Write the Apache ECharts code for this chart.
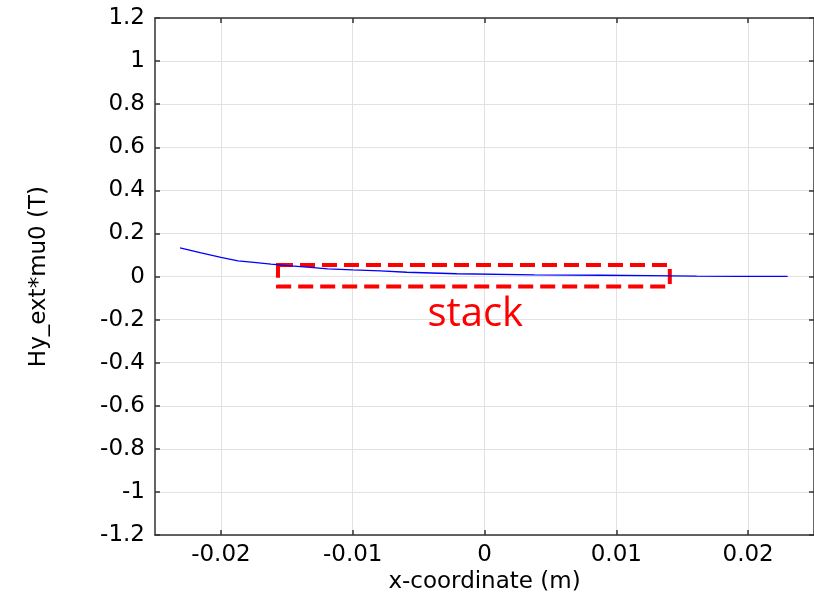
<!DOCTYPE html>
<html><head><meta charset="utf-8">
<script src="https://cdn.jsdelivr.net/npm/echarts@6/dist/echarts.min.js"></script>
<style>html,body{margin:0;padding:0;background:#fff;overflow:hidden}#c{width:814px;height:599px}</style>
</head><body><div id="c"></div>
<script>
// Data
var xValues = [-0.0231, -0.0215, -0.0200, -0.0187, -0.0175, -0.0162, -0.0147, -0.0132, -0.0119, -0.0100, -0.0079, -0.0059, -0.0021, 0.0038, 0.0088, 0.0125, 0.0161, 0.0193, 0.0230];
var yValues = [0.133, 0.110, 0.089, 0.073, 0.066, 0.058, 0.050, 0.043, 0.036, 0.031, 0.026, 0.020, 0.013, 0.008, 0.006, 0.004, 0.002, 0.001, 0.001];
var xTicks = [-0.02, -0.01, 0, 0.01, 0.02];
var yTicks = [-1.2, -1, -0.8, -0.6, -0.4, -0.2, 0, 0.2, 0.4, 0.6, 0.8, 1, 1.2];
var stackBox = [[-0.01567, 0.054], [0.01406, -0.046]];
var stackLabel = 'stack';
var stackLabelPos = [-0.0007, -0.176];
var xName = 'x-coordinate (m)';
var yName = 'Hy_ext*mu0 (T)';

var points = xValues.map(function (x, i) { return [x, yValues[i]]; });
var font = 'DejaVu Sans';
var axisLineStyle = { color: '#333', width: 1.5 };

var chart = echarts.init(document.getElementById('c'), null, { renderer: 'canvas' });
chart.setOption({
  animation: false,
  backgroundColor: '#fff',
  grid: { left: 155, right: -1, top: 18, bottom: 57, containLabel: false },
  xAxis: [{
    type: 'value', min: -0.025, max: 0.025,
    name: xName, nameLocation: 'middle', nameGap: 29,
    nameTextStyle: { fontFamily: font, fontSize: 23, color: '#000' },
    axisLine: { show: true, onZero: false, lineStyle: axisLineStyle },
    axisTick: { show: true, inside: true, length: 5, lineStyle: axisLineStyle, customValues: xTicks },
    axisLabel: { fontFamily: font, fontSize: 23, color: '#000', margin: 8, customValues: xTicks,
      formatter: function (v) { return String(v); } },
    splitLine: { show: true, lineStyle: { color: '#e2e2e2', width: 1 } },
    interval: 0.005
  }, {
    type: 'value', position: 'top', min: -0.025, max: 0.025,
    axisLine: { show: true, onZero: false, lineStyle: axisLineStyle },
    axisTick: { show: true, inside: true, length: 5, lineStyle: axisLineStyle, customValues: xTicks },
    axisLabel: { show: false }, splitLine: { show: false }
  }],
  yAxis: [{
    type: 'value', min: -1.2, max: 1.2, interval: 0.2,
    name: yName, nameLocation: 'middle', nameGap: 104, nameRotate: 90,
    nameTextStyle: { fontFamily: font, fontSize: 23, color: '#000' },
    axisLine: { show: true, onZero: false, lineStyle: axisLineStyle },
    axisTick: { show: true, inside: true, length: 5, lineStyle: axisLineStyle },
    axisLabel: { fontFamily: font, fontSize: 23, color: '#000', margin: 10, showMinLabel: true, showMaxLabel: true,
      formatter: function (v) { return String(Math.round(v * 10) / 10); } },
    splitLine: { show: true, lineStyle: { color: '#e2e2e2', width: 1 } }
  }, {
    type: 'value', position: 'right', min: -1.2, max: 1.2, interval: 0.2,
    axisLine: { show: true, onZero: false, lineStyle: axisLineStyle },
    axisTick: { show: true, inside: true, length: 5, lineStyle: axisLineStyle },
    axisLabel: { show: false }, splitLine: { show: false }
  }],
  series: [{
    type: 'line', data: points, showSymbol: false, smooth: false,
    lineStyle: { color: '#0000ff', width: 1.3 },
    markArea: {
      silent: true,
      itemStyle: { color: 'rgba(0,0,0,0)', borderColor: '#ff0000', borderWidth: 4, borderType: [15, 7] },
      label: { show: false },
      data: [[{ coord: stackBox[0] }, { coord: stackBox[1] }]]
    },
    markPoint: {
      silent: true, symbol: 'circle', symbolSize: 0,
      label: { show: true, formatter: stackLabel, color: '#ff0000', fontFamily: 'Open Sans', fontSize: 40, position: 'inside' },
      data: [{ coord: stackLabelPos }]
    }
  }]
});
</script></body></html>
